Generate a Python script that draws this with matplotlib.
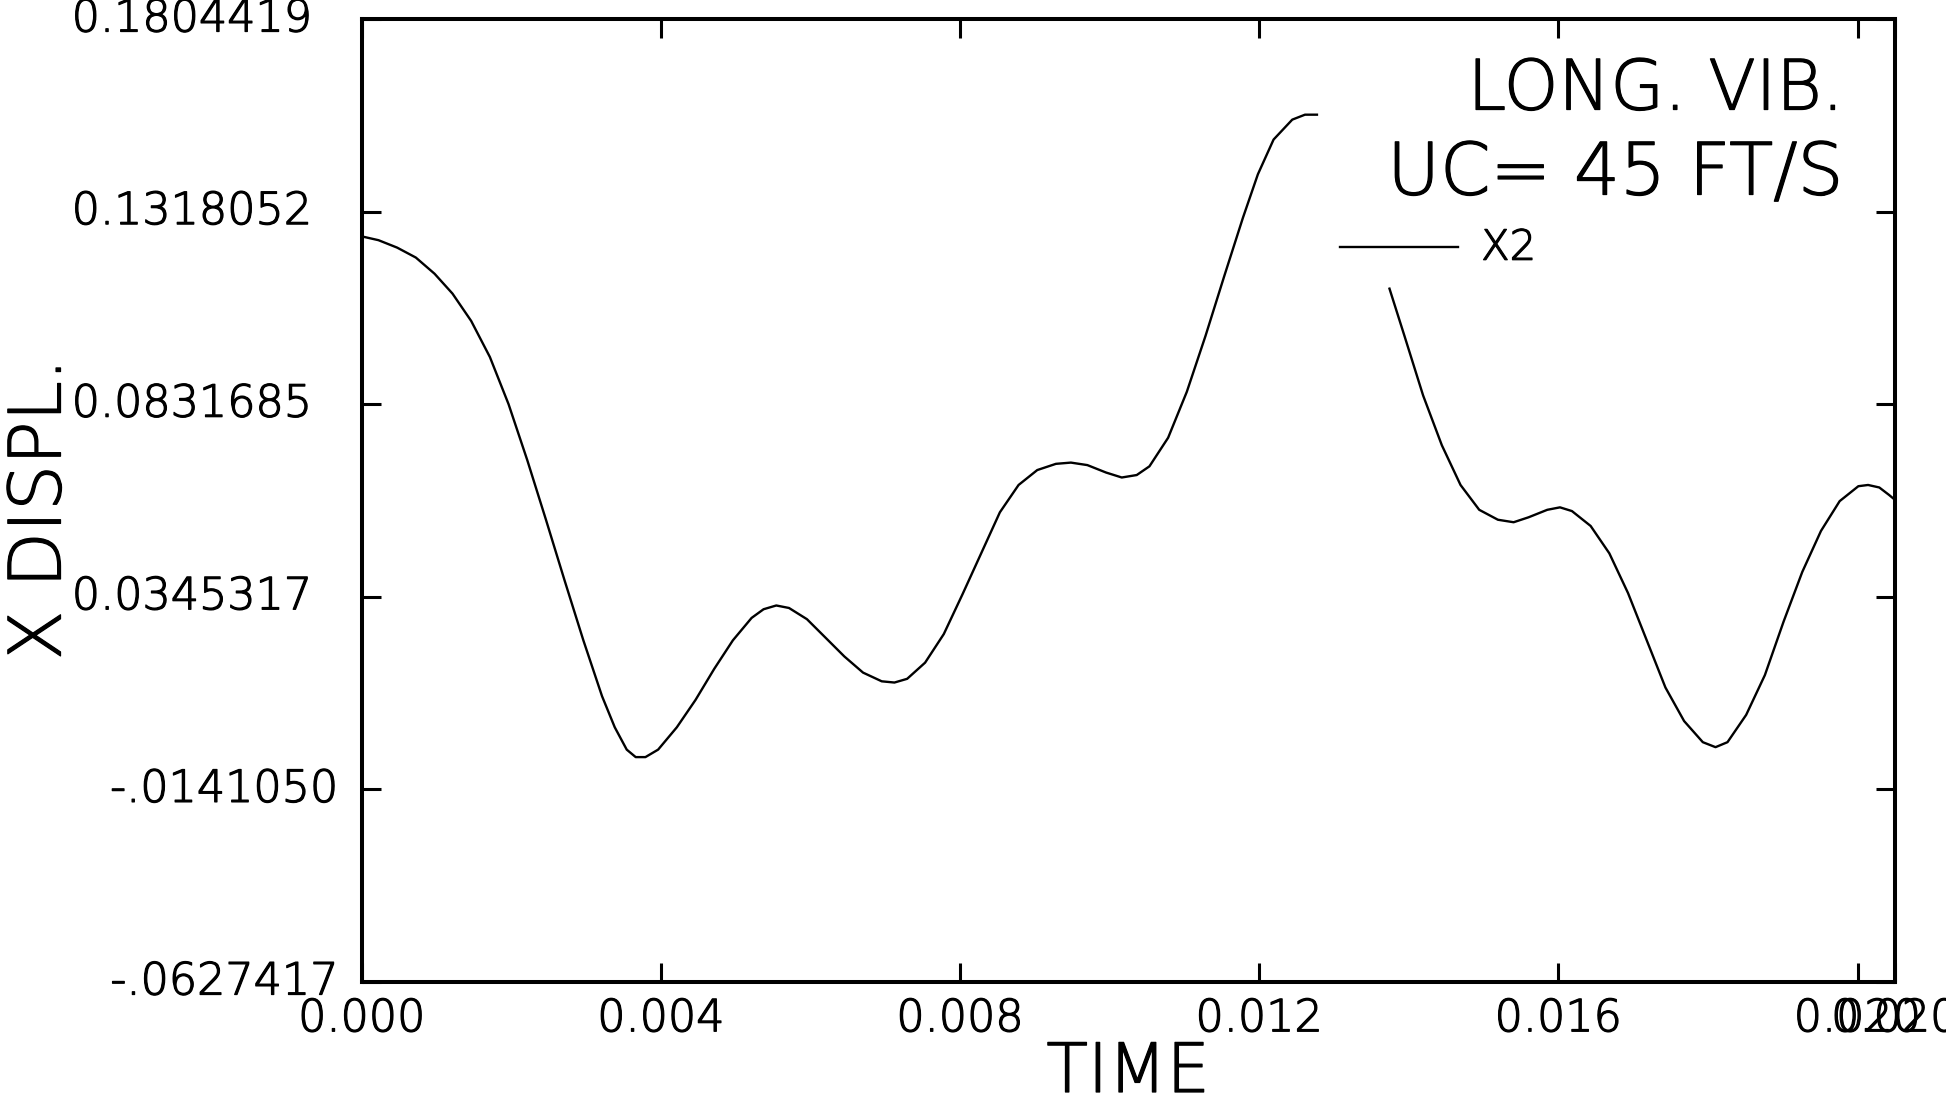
import numpy as np
import matplotlib
matplotlib.use("Agg")
import matplotlib.pyplot as plt
import matplotlib.patheffects as pe

# x2 displacement vs time (nan = part hidden behind the legend text)
time = [0.00000, 0.00022, 0.00047, 0.00072, 0.00097, 0.00121, 0.00146, 0.00171,
        0.00196, 0.00221, 0.00246, 0.00271, 0.00296, 0.00321, 0.00338, 0.00354,
        0.00366, 0.00379, 0.00396, 0.00421, 0.00446, 0.00471, 0.00496, 0.00521,
        0.00537, 0.00554, 0.00571, 0.00595, 0.00620, 0.00645, 0.00670, 0.00695,
        0.00712, 0.00729, 0.00753, 0.00778, 0.00803, 0.00828, 0.00853, 0.00878,
        0.00903, 0.00928, 0.00948, 0.00970, 0.00995, 0.01016, 0.01036, 0.01053,
        0.01078, 0.01103, 0.01128, 0.01153, 0.01178, 0.01198, 0.01219, 0.01244,
        0.01261, 0.01277, 0.01320,
        0.01374, 0.01394, 0.01419, 0.01444, 0.01469, 0.01494, 0.01519, 0.01540,
        0.01560, 0.01585, 0.01602, 0.01618, 0.01643, 0.01668, 0.01693, 0.01718,
        0.01743, 0.01768, 0.01793, 0.01810, 0.01826, 0.01851, 0.01876, 0.01901,
        0.01926, 0.01951, 0.01976, 0.02001, 0.02014, 0.02029, 0.02042, 0.02054]
x2 = [0.12553, 0.12459, 0.12271, 0.12020, 0.11612, 0.11110, 0.10419, 0.09509,
      0.08317, 0.06905, 0.05399, 0.03861, 0.02355, 0.00943, 0.00158, -0.00406,
      -0.00595, -0.00595, -0.00406, 0.00158, 0.00849, 0.01633, 0.02355, 0.02920,
      0.03139, 0.03234, 0.03171, 0.02888, 0.02418, 0.01947, 0.01539, 0.01319,
      0.01288, 0.01382, 0.01790, 0.02512, 0.03516, 0.04551, 0.05587, 0.06277,
      0.06654, 0.06811, 0.06842, 0.06779, 0.06591, 0.06466, 0.06528, 0.06748,
      0.07470, 0.08631, 0.10043, 0.11549, 0.13024, 0.14122, 0.15000, 0.15503,
      0.15628, 0.15628, np.nan,
      0.11235, 0.10043, 0.08536, 0.07281, 0.06277, 0.05650, 0.05399, 0.05336,
      0.05461, 0.05650, 0.05712, 0.05618, 0.05242, 0.04551, 0.03547, 0.02355,
      0.01163, 0.00315, -0.00218, -0.00344, -0.00218, 0.00472, 0.01476, 0.02826,
      0.04081, 0.05116, 0.05869, 0.06246, 0.06277, 0.06214, 0.06026, 0.05838]

y_ticks = [-0.0627417, -0.0141050, 0.0345317, 0.0831685, 0.1318052, 0.1804419]
y_labels = ["-.0627417", "-.0141050", "0.0345317", "0.0831685", "0.1318052", "0.1804419"]
x_ticks = [0.000, 0.004, 0.008, 0.012, 0.016, 0.020, 0.0205]
x_labels = ["0.000", "0.004", "0.008", "0.012", "0.016", "0.020", "0.020"]

plt.rcParams["font.family"] = ["DejaVu Sans"]
plt.rcParams["font.weight"] = "light"

# thin pen-plotter look: light font, slightly thickened
pen = [pe.withStroke(linewidth=0.9, foreground="black")]

W, H = 1946, 1105
fig = plt.figure(figsize=(W / 100, H / 100), dpi=100)
ax = fig.add_axes([362 / W, 1 - 982 / H, 1533 / W, 963 / H])

ax.plot(time, x2, color="black", linewidth=1.7, solid_joinstyle="round")
ax.set_xlim(0.0, 0.0205)
ax.set_ylim(y_ticks[0], y_ticks[-1])

for s in ax.spines.values():
    s.set_linewidth(2.9)

ax.set_xticks(x_ticks)
ax.set_xticklabels(x_labels, fontsize=32)
for lab in ax.get_xticklabels():
    lab.set_path_effects(pen)
ax.set_yticks(y_ticks)
ax.set_yticklabels([])
ax.tick_params(direction="in", length=14, width=2.2, top=True, right=True)
ax.tick_params(axis="x", pad=11)

# y labels drawn by hand: the negative ones sit closer to the axis
ytr = ax.get_yaxis_transform()
for v, lab in zip(y_ticks, y_labels):
    xpos = -0.015 if lab.startswith("-") else -0.032
    ax.text(xpos, v, lab, transform=ytr, ha="right", va="center",
            fontsize=32, path_effects=pen)

fig.text(1128 / W, 1 - 1092 / H, "TIME", ha="center", va="baseline",
         fontsize=49, path_effects=pen)
fig.text(41 / W, 1 - 509 / H, "X DISPL.", ha="center", va="center",
         rotation=90, fontsize=52, path_effects=pen)

ax.text(0.9667, 0.926, "LONG. VIB.", transform=ax.transAxes,
        ha="right", va="center", fontsize=50, path_effects=pen)
ax.text(0.9667, 0.838, "UC= 45 FT/S", transform=ax.transAxes,
        ha="right", va="center", fontsize=52, path_effects=pen)
ax.plot([0.638, 0.715], [0.763, 0.763], transform=ax.transAxes,
        color="black", linewidth=1.7)
ax.text(0.730, 0.763, "X2", transform=ax.transAxes, ha="left", va="center",
        fontsize=30, path_effects=pen)

fig.savefig("out.png", dpi=100)
